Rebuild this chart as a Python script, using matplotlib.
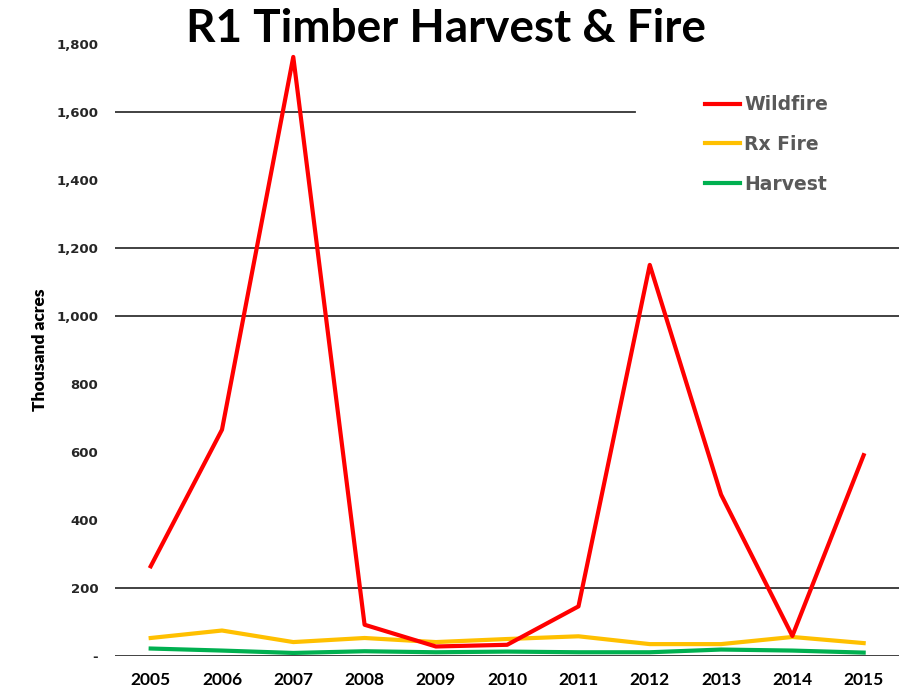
import matplotlib
matplotlib.use('Agg')
from matplotlib import pyplot as plt
from matplotlib.ticker import FuncFormatter

years = [2005, 2006, 2007, 2008, 2009, 2010, 2011, 2012, 2013, 2014, 2015]
wildfire = [263, 665, 1762, 91, 27, 32, 145, 1150, 474, 58, 590]
rx_fire = [52, 74, 40, 52, 40, 49, 57, 34, 34, 55, 37]
harvest = [21, 15, 8, 13, 10, 12, 10, 10, 18, 15, 9]
grid_vals = [0, 200, 1000, 1200]
ytick_vals = [0, 200, 400, 600, 800, 1000, 1200, 1400, 1600, 1800]

narrow = ['Lato', 'DejaVu Sans']

fig = plt.figure(figsize=(9.13, 6.88), dpi=100)
ax = fig.add_axes([0.126, 0.047, 0.859, 0.889])

for v in grid_vals:
	ax.axhline(v, color='#333333', lw=1.3, zorder=1)
# 1600 line is cut off where the legend sits
ax.axhline(1600, xmin=0, xmax=0.663, color='#333333', lw=1.3, zorder=1)

ax.plot(years, wildfire, color='#ff0000', lw=3, label='Wildfire', zorder=3)
ax.plot(years, rx_fire, color='#ffc000', lw=3, label='Rx Fire', zorder=2)
ax.plot(years, harvest, color='#00b050', lw=3, label='Harvest', zorder=2)

ax.set_xlim(2004.5, 2015.5)
ax.set_ylim(0, 1800)
ax.set_xticks(years)
ax.set_xticklabels([str(y) for y in years], fontsize=12.5, fontweight='bold', family=narrow)
ax.set_yticks(ytick_vals)
ax.yaxis.set_major_formatter(FuncFormatter(lambda v, p: '-' if v == 0 else '{:,.0f}'.format(v)))
for lb in ax.get_yticklabels():
	lb.set_fontsize(9.5)
	lb.set_fontweight('bold')
	lb.set_color('#262626')
ax.tick_params(axis='x', length=0, pad=12)
ax.tick_params(axis='y', length=0, pad=12)
for s in ax.spines.values():
	s.set_visible(False)

ax.set_ylabel('Thousand acres', fontsize=12.5, fontweight='heavy', family=narrow, labelpad=6)

fig.text(0.489, 0.958, 'R1 Timber Harvest & Fire', ha='center', va='center',
	fontsize=33, fontweight='bold', family=['Lato', 'DejaVu Sans'])

leg = ax.legend(loc='upper left', bbox_to_anchor=(0.752, 0.916), frameon=False,
	fontsize=13.5, handlelength=1.9, handletextpad=0.2, labelspacing=1.1,
	borderpad=0, borderaxespad=0)
for t in leg.get_texts():
	t.set_color('#595959')
	t.set_fontweight('bold')

fig.savefig('out.png', dpi=100)
